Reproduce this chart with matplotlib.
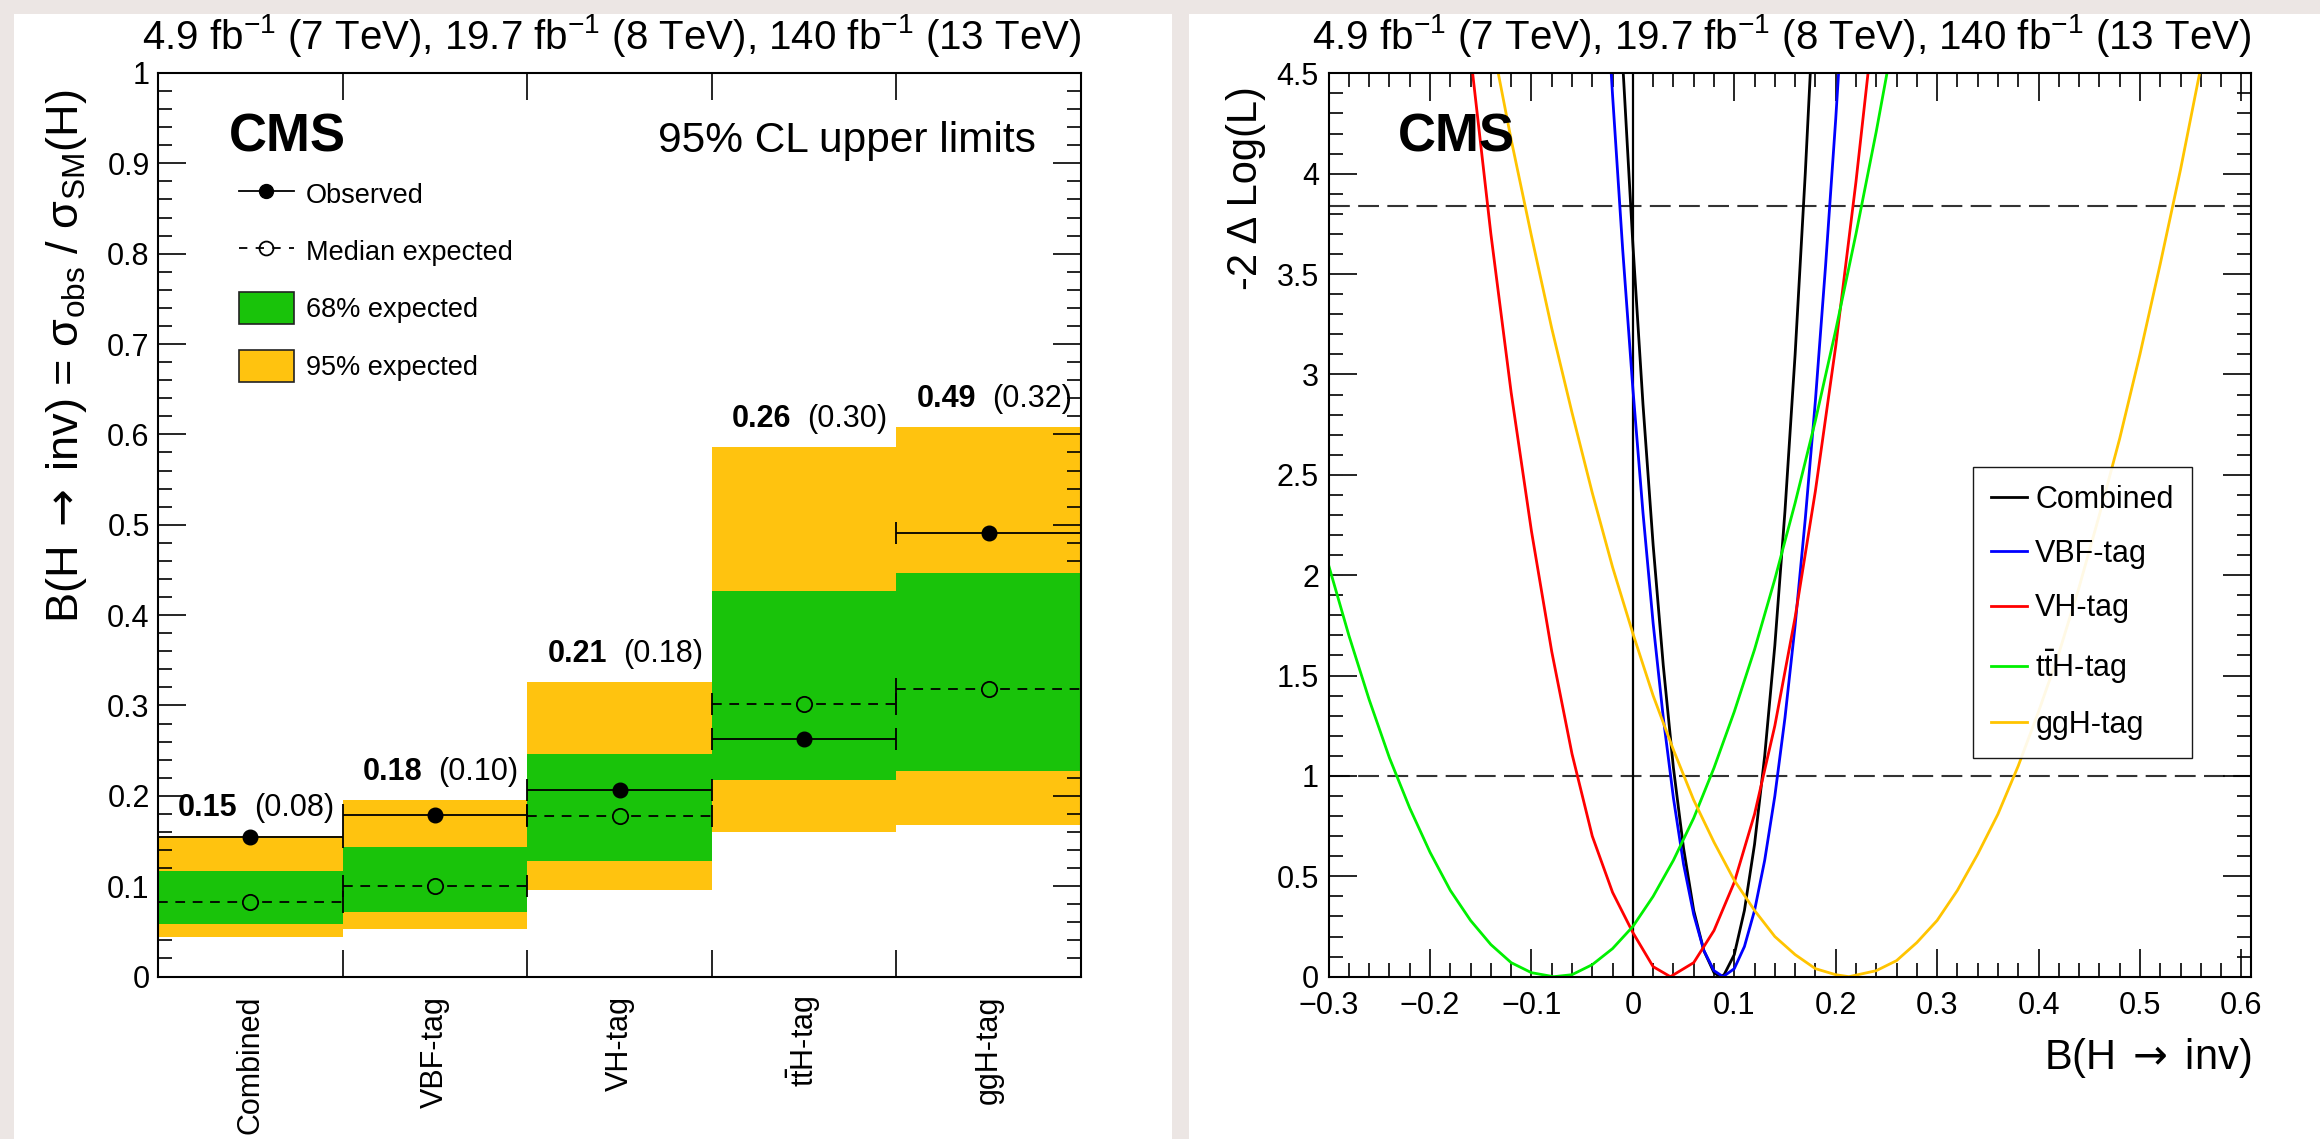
import matplotlib
matplotlib.use('Agg')
import matplotlib.pyplot as plt
from matplotlib.lines import Line2D
from matplotlib.patches import Patch, Rectangle
from matplotlib.ticker import MultipleLocator, FuncFormatter

# ---------------- data: left panel (95% CL upper limits) ----------------
categories = ['Combined', 'VBF-tag', 'VH-tag', 't$\\bar{\\mathregular{t}}$H-tag', 'ggH-tag']
observed = [0.154, 0.179, 0.206, 0.263, 0.491]
expected = [0.083, 0.100, 0.178, 0.302, 0.318]
band68_lo = [0.058, 0.071, 0.128, 0.217, 0.227]
band68_hi = [0.117, 0.143, 0.246, 0.427, 0.447]
band95_lo = [0.044, 0.053, 0.096, 0.160, 0.168]
band95_hi = [0.155, 0.195, 0.326, 0.586, 0.608]
obs_labels = ['0.15', '0.18', '0.21', '0.26', '0.49']
exp_labels = ['(0.08)', '(0.10)', '(0.18)', '(0.30)', '(0.32)']

# ---------------- data: right panel (-2 Delta log L scans) ----------------
comb_x = [-0.015, -0.01, 0.0, 0.01, 0.02, 0.03, 0.04, 0.05, 0.06, 0.07, 0.08, 0.086,
          0.09, 0.10, 0.11, 0.12, 0.13, 0.14, 0.15, 0.16, 0.17, 0.18]
comb_y = [5.04, 4.55, 3.65, 2.85, 2.15, 1.55, 1.04, 0.64, 0.33, 0.13, 0.02, 0.0,
          0.01, 0.11, 0.33, 0.66, 1.10, 1.65, 2.32, 3.10, 4.00, 5.01]
vbf_x = [-0.025, -0.02, -0.01, 0.0, 0.01, 0.02, 0.03, 0.04, 0.05, 0.06, 0.07, 0.08, 0.089,
         0.10, 0.11, 0.12, 0.13, 0.14, 0.15, 0.16, 0.17, 0.18, 0.19, 0.20, 0.21]
vbf_y = [4.81, 4.39, 3.62, 2.93, 2.31, 1.76, 1.29, 0.89, 0.56, 0.31, 0.13, 0.03, 0.0,
         0.04, 0.15, 0.33, 0.58, 0.90, 1.29, 1.75, 2.28, 2.87, 3.54, 4.27, 5.08]
vh_x = [-0.17, -0.16, -0.14, -0.12, -0.10, -0.08, -0.06, -0.04, -0.02, 0.0, 0.02, 0.037,
        0.06, 0.08, 0.10, 0.12, 0.14, 0.16, 0.18, 0.20, 0.22, 0.24]
vh_y = [5.10, 4.59, 3.70, 2.91, 2.22, 1.62, 1.11, 0.70, 0.42, 0.22, 0.05, 0.0,
        0.07, 0.23, 0.47, 0.81, 1.25, 1.79, 2.42, 3.14, 3.96, 4.87]
tth_x = [-0.30, -0.28, -0.26, -0.24, -0.22, -0.20, -0.18, -0.16, -0.14, -0.12, -0.10, -0.078,
         -0.06, -0.04, -0.02, 0.0, 0.02, 0.04, 0.06, 0.08, 0.10, 0.12, 0.14, 0.16, 0.18,
         0.20, 0.22, 0.24, 0.26]
tth_y = [2.05, 1.70, 1.38, 1.09, 0.84, 0.62, 0.43, 0.28, 0.16, 0.07, 0.02, 0.0,
         0.01, 0.06, 0.14, 0.25, 0.40, 0.58, 0.79, 1.04, 1.32, 1.63, 1.98, 2.36, 2.77,
         3.22, 3.70, 4.21, 4.76]
ggh_x = [-0.14, -0.12, -0.10, -0.08, -0.06, -0.04, -0.02, 0.0, 0.02, 0.04, 0.06, 0.08,
         0.10, 0.12, 0.14, 0.16, 0.18, 0.20, 0.213, 0.24, 0.26, 0.28, 0.30, 0.32, 0.34,
         0.36, 0.38, 0.40, 0.42, 0.44, 0.46, 0.48, 0.50, 0.52, 0.54, 0.56, 0.58]
ggh_y = [4.69, 4.17, 3.69, 3.23, 2.81, 2.41, 2.04, 1.71, 1.40, 1.13, 0.88, 0.67,
         0.48, 0.33, 0.20, 0.11, 0.04, 0.01, 0.0, 0.03, 0.08, 0.17, 0.28, 0.43, 0.61,
         0.81, 1.05, 1.32, 1.61, 1.94, 2.30, 2.68, 3.10, 3.55, 4.02, 4.53, 5.07]
scan_labels = ['Combined', 'VBF-tag', 'VH-tag', 't$\\bar{\\mathregular{t}}$H-tag', 'ggH-tag']
scan_colors = ['#000000', '#0000ff', '#ff0000', '#00f000', '#ffc400']
ref_levels = [1.0, 3.84]

title = ('4.9 fb$^{\\mathregular{-1}}$ (7 TeV), 19.7 fb$^{\\mathregular{-1}}$ (8 TeV), '
         '140 fb$^{\\mathregular{-1}}$ (13 TeV)')

# ---------------- style ----------------
plt.rcParams['font.family'] = ['Liberation Sans', 'DejaVu Sans']
plt.rcParams['mathtext.fontset'] = 'dejavusans'
plt.rcParams['lines.scale_dashes'] = False
plt.rcParams['axes.linewidth'] = 1.5

W, H, DPI = 2320, 1139, 100
BG = '#ece6e4'
GREEN = '#19c30a'
YELLOW = '#ffc30f'


def fx(px):
    return px / W


def fy(py):
    return 1 - py / H


fig = plt.figure(figsize=(W / DPI, H / DPI), dpi=DPI, facecolor=BG)
fig.add_artist(Rectangle((fx(14), 0), (1172 - 14) / W, fy(14), transform=fig.transFigure,
                         facecolor='white', edgecolor='none', zorder=-10))
fig.add_artist(Rectangle((fx(1189), 0), (W - 1189) / W, fy(14), transform=fig.transFigure,
                         facecolor='white', edgecolor='none', zorder=-10))

ax1 = fig.add_axes([fx(158), fy(976.5), (1081 - 158) / W, (976.5 - 73) / H])
ax2 = fig.add_axes([fx(1328.6), fy(976.7), (2251 - 1328.6) / W, (976.7 - 73.3) / H])


def fmt(v, pos):
    v = round(v, 4)
    if abs(v) < 1e-9:
        return '0'
    return f'{v:g}'.replace('-', '\u2212')


# ---------------- left panel ----------------
xs = list(range(len(categories)))
ax1.bar(xs, [h - l for h, l in zip(band95_hi, band95_lo)], bottom=band95_lo, width=1.0,
        color=YELLOW, linewidth=0, zorder=1)
ax1.bar(xs, [h - l for h, l in zip(band68_hi, band68_lo)], bottom=band68_lo, width=1.0,
        color=GREEN, linewidth=0, zorder=2)
eb_exp = ax1.errorbar(xs, expected, xerr=0.5, fmt='o', ms=11, mfc=GREEN, mec='k', mew=1.3,
                      ecolor='k', elinewidth=1.3, capsize=8, capthick=1.3, zorder=3)
eb_exp[2][0].set_linestyle((0, (7, 5.5)))
ax1.errorbar(xs, observed, xerr=0.5, fmt='o', ms=10.5, color='k', elinewidth=1.3,
             capsize=8, capthick=1.3, zorder=4)

for i in xs:
    ax1.annotate(obs_labels[i], xy=(i, band95_hi[i] + 0.031), xytext=(-9, 0),
                 textcoords='offset points', ha='right', va='center',
                 fontsize=22, fontweight='bold')
    ax1.annotate(exp_labels[i], xy=(i, band95_hi[i] + 0.031), xytext=(2.5, 0),
                 textcoords='offset points', ha='left', va='center', fontsize=22)

ax1.set_xlim(-0.5, len(categories) - 0.5)
ax1.set_ylim(0, 1)
ax1.set_xticks([i - 0.5 for i in range(len(categories) + 1)])
ax1.set_xticklabels([])
ax1.set_xticks(xs, categories, minor=True, rotation=90)
ax1.yaxis.set_major_locator(MultipleLocator(0.1))
ax1.yaxis.set_minor_locator(MultipleLocator(0.02))
ax1.yaxis.set_major_formatter(FuncFormatter(fmt))
ax1.tick_params(which='both', direction='in', top=True, right=True, width=1.2,
                labelsize=22, color='k')
ax1.tick_params(axis='y', which='major', length=20, pad=6)
ax1.tick_params(axis='y', which='minor', length=10)
ax1.tick_params(axis='x', which='major', length=19.5)
ax1.tick_params(axis='x', which='minor', length=0, pad=14)

ax1.set_ylabel('B(H$\\:\\rightarrow\\:$inv) = \u03c3$_{\\mathregular{obs}}$ / '
               '\u03c3$_{\\mathregular{SM}}$(H)',
               fontsize=32.5, ha='center', va='top', rotation=90, rotation_mode='default')
ax1.yaxis.set_label_coords((67 - 158) / 923, (976 - 89) / 903)

ax1.text(1.0, (976 - 49) / 903, title, transform=ax1.transAxes, ha='right', va='baseline',
         fontsize=29)
ax1.text(0.0769, (976 - 151.5) / 903, 'CMS', transform=ax1.transAxes, ha='left',
         va='baseline', fontsize=38, fontweight='bold')
ax1.text(0.951, (976 - 152) / 903, '95% CL upper limits', transform=ax1.transAxes,
         ha='right', va='baseline', fontsize=30.5)

h_obs = Line2D([], [], color='k', marker='o', ms=10, lw=1.3)
h_exp = Line2D([], [], color='k', marker='o', ms=10, mfc='none', mew=1.3, lw=1.3,
               linestyle=(0, (6, 6)))
h_68 = Patch(facecolor=GREEN, edgecolor='#222222', linewidth=1.2)
h_95 = Patch(facecolor=YELLOW, edgecolor='#222222', linewidth=1.2)
ax1.legend([h_obs, h_exp, h_68, h_95],
           ['Observed', 'Median expected', '68% expected', '95% expected'],
           loc='upper left', bbox_to_anchor=((239 - 158) / 923, (976 - 178) / 903),
           borderaxespad=0, borderpad=0, frameon=False, fontsize=19.5,
           handlelength=2.03, handleheight=1.44, handletextpad=0.43, labelspacing=0.93,
           numpoints=1)

# ---------------- right panel ----------------
scans = [(comb_x, comb_y), (vbf_x, vbf_y), (vh_x, vh_y), (tth_x, tth_y), (ggh_x, ggh_y)]
for lvl in ref_levels:
    ax2.axhline(lvl, color='#333333', lw=1.5, linestyle=(0, (15, 6)), zorder=1)
ax2.axvline(0.0, color='k', lw=1.6, zorder=1)
handles = []
for (sx, sy), lab, col in zip(scans, scan_labels, scan_colors):
    ln, = ax2.plot(sx, sy, color=col, lw=2.0, label=lab, zorder=2)
    handles.append(ln)

ax2.set_xlim(-0.3, 0.6095)
ax2.set_ylim(0, 4.5)
ax2.xaxis.set_major_locator(MultipleLocator(0.1))
ax2.xaxis.set_minor_locator(MultipleLocator(0.02))
ax2.yaxis.set_major_locator(MultipleLocator(0.5))
ax2.yaxis.set_minor_locator(MultipleLocator(0.1))
ax2.xaxis.set_major_formatter(FuncFormatter(fmt))
ax2.yaxis.set_major_formatter(FuncFormatter(fmt))
ax2.tick_params(which='both', direction='in', top=True, right=True, width=1.2,
                labelsize=22, color='k')
ax2.tick_params(which='major', length=20)
ax2.tick_params(which='minor', length=10)
ax2.tick_params(axis='x', which='major', pad=10)
ax2.tick_params(axis='y', which='major', pad=7)

ax2.set_ylabel('-2 \u0394 Log(L)', fontsize=30, ha='center', va='top', rotation=90,
               rotation_mode='default')
ax2.yaxis.set_label_coords((1246 - 1328.6) / 922.4, (976.7 - 86) / 903.4)
ax2.set_xlabel('B(H$\\:\\rightarrow\\:$inv)', fontsize=30, ha='right', va='top')
ax2.xaxis.set_label_coords(1.0, (976.7 - 1036) / 903.4)

ax2.text(1.0, (976.7 - 49) / 903.4, title, transform=ax2.transAxes, ha='right',
         va='baseline', fontsize=29)
ax2.text(0.0752, (976.7 - 151.5) / 903.4, 'CMS', transform=ax2.transAxes, ha='left',
         va='baseline', fontsize=38, fontweight='bold')

leg2 = ax2.legend(handles=handles, loc='upper left',
                  bbox_to_anchor=((1972.7 - 1328.6) / 922.4, (976.7 - 466.7) / 903.4),
                  borderaxespad=0, borderpad=0.6, fontsize=22, handlelength=1.18,
                  handletextpad=0.27, labelspacing=0.79, frameon=True, fancybox=False,
                  edgecolor='black', framealpha=0.9, facecolor='white')
leg2.get_frame().set_linewidth(1.0)

fig.savefig('out.png', dpi=DPI, facecolor=BG)
